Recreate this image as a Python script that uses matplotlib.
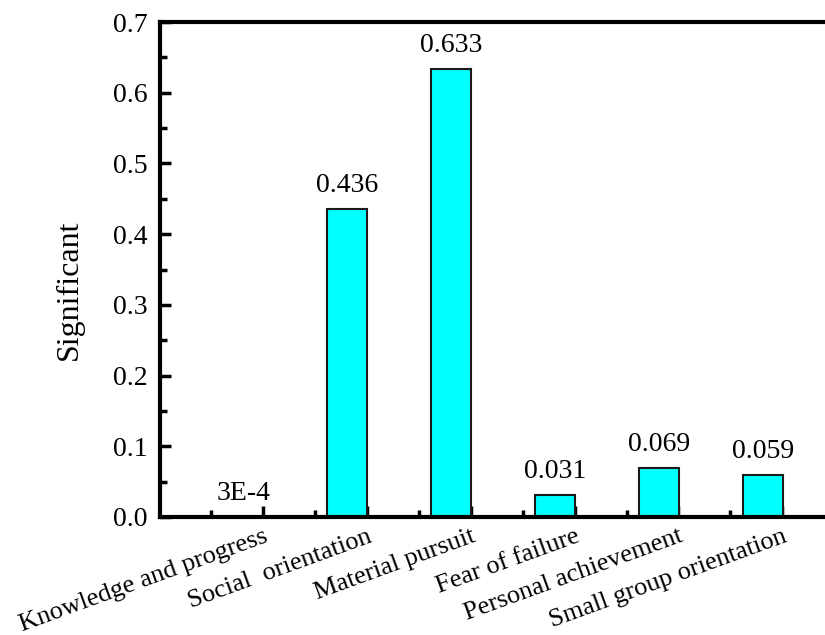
import matplotlib
matplotlib.use("Agg")
import matplotlib.pyplot as plt
from matplotlib.ticker import MultipleLocator, FixedLocator

categories = ["Knowledge and progress", "Social  orientation", "Material pursuit",
              "Fear of failure", "Personal achievement", "Small group orientation"]
values = [0.0003, 0.436, 0.633, 0.031, 0.069, 0.059]
value_labels = ["3E-4", "0.436", "0.633", "0.031", "0.069", "0.059"]

plt.rcParams['font.family'] = ['Liberation Serif', 'DejaVu Serif']

fig = plt.figure(figsize=(8.25, 6.35), dpi=100)
ax = fig.add_axes([160/825, 1-517/635, 1-160/825, (517-22)/635])

x = list(range(1, len(categories)+1))
bars = ax.bar(x, values, width=0.385, color='#00FFFF', edgecolor='#1a1a1a', linewidth=1.5, zorder=2)
ax.bar_label(bars, labels=value_labels, padding=8, fontsize=20)

ax.set_xlim(0.2, 6.6)
ax.set_ylim(0, 0.7)

# Origin style ticks: major at bar right edges, minor in between
major = [i + 0.19 for i in x]
minor = [i - 0.31 for i in x]
ax.xaxis.set_major_locator(FixedLocator(major))
ax.xaxis.set_minor_locator(FixedLocator(minor))
ax.set_xticklabels(categories, rotation=20, ha='right', va='top',
                   rotation_mode='anchor', fontsize=19)

ax.yaxis.set_major_locator(MultipleLocator(0.1))
ax.yaxis.set_minor_locator(MultipleLocator(0.05))
ax.yaxis.set_major_formatter(plt.FormatStrFormatter('%.1f'))

ax.tick_params(axis='both', which='major', direction='in', length=8, width=2.5)
ax.tick_params(axis='both', which='minor', direction='in', length=5, width=2.5)
ax.tick_params(axis='x', pad=6)
ax.tick_params(axis='y', pad=9, labelsize=20)
ax.tick_params(right=False, top=False, which='both')

for s in ['left', 'bottom', 'top']:
    ax.spines[s].set_linewidth(3)
ax.spines['right'].set_visible(False)

ax.set_ylabel("Significant", fontsize=23)
ax.yaxis.set_label_coords(-0.115, 0.46)

fig.savefig("out.png", dpi=100)
